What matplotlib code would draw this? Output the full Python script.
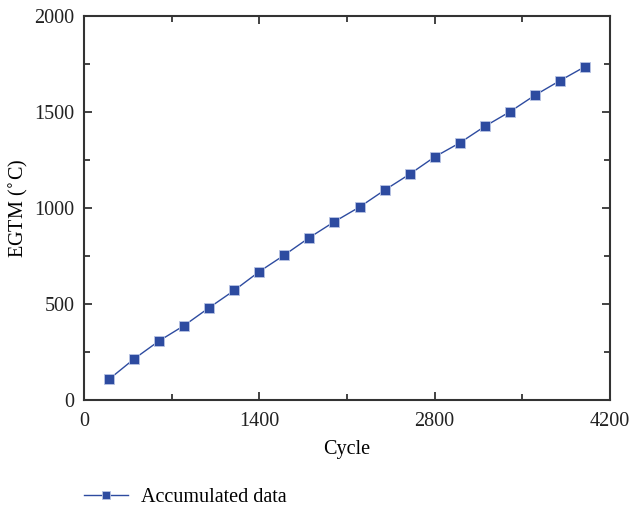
import matplotlib
matplotlib.use("Agg")
import matplotlib.pyplot as plt
from matplotlib.ticker import MultipleLocator

cycles = [200, 400, 600, 800, 1000, 1200, 1400, 1600, 1800, 2000,
          2200, 2400, 2600, 2800, 3000, 3200, 3400, 3600, 3800, 4000]
egtm = [108, 214, 308, 388, 481, 571, 669, 755, 846, 929,
        1005, 1093, 1176, 1266, 1339, 1425, 1501, 1587, 1663, 1736]
x_ticks = [0, 1400, 2800, 4200]
y_ticks = [0, 500, 1000, 1500, 2000]

plt.rcParams['font.family'] = ['Liberation Serif', 'DejaVu Serif']

fig = plt.figure(figsize=(6.3, 5.08), dpi=100)
ax = fig.add_axes([84/630, 1-400/508, (610-84)/630, (400-16)/508])

color = '#2D4BA0'
line, = ax.plot(cycles, egtm, color=color, lw=1.0, marker='s', markersize=7.8,
                markerfacecolor=color, markeredgecolor='#b8c4e4', markeredgewidth=0.6,
                label='Accumulated data')

ax.set_xlim(0, 4200)
ax.set_ylim(0, 2000)
ax.set_xticks(x_ticks)
ax.set_yticks(y_ticks)
ax.xaxis.set_minor_locator(MultipleLocator(700))
ax.yaxis.set_minor_locator(MultipleLocator(250))
ax.tick_params(which='both', direction='in', top=True, right=True, labelsize=14.5,
               colors='#222222', width=1.2)
ax.tick_params(axis='x', pad=9)
ax.tick_params(axis='y', pad=7)
ax.tick_params(which='major', length=6)
ax.tick_params(which='minor', length=4)
for s in ax.spines.values():
    s.set_linewidth(1.5)
    s.set_color('#333333')

ax.set_xlabel('Cycle', fontsize=14.5)
ax.xaxis.set_label_coords(0.5, -(440-400)/384, transform=ax.transAxes)
ax.set_ylabel('EGTM ($^{\\circ}$C)', fontsize=14.5, va='center')
ax.yaxis.set_label_coords(-(84-18)/526, 0.5)

fig.legend(handles=[line], loc='center left', bbox_to_anchor=(66/630, 1-497/508),
           frameon=False, fontsize=14.5, handlelength=2.2, handletextpad=0.6,
           markerscale=0.75)

fig.savefig('out.png', dpi=100)
